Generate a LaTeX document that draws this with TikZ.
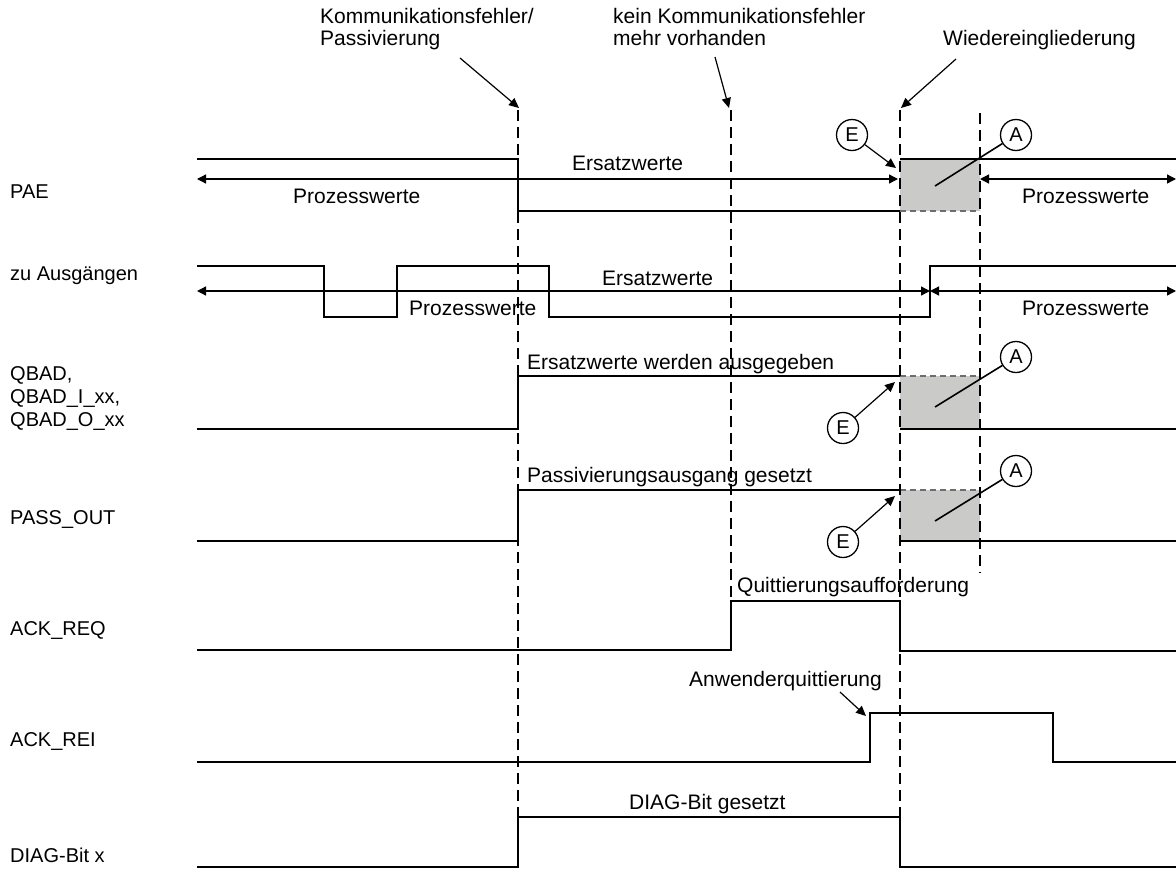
\documentclass[tikz,border=0pt]{standalone}
\usepackage{fontspec}
\setmainfont{Liberation Sans}
\usetikzlibrary{arrows.meta}
\definecolor{boxgray}{RGB}{202,202,200}
\definecolor{edgegray}{RGB}{110,110,110}
\begin{document}
\begin{tikzpicture}[x=1pt,y=-1pt,
  sig/.style={line width=1.8pt, line join=miter},
  guide/.style={line width=1.3pt, dash pattern=on 11pt off 6pt},
  boxedge/.style={line width=1.3pt, draw=edgegray, dash pattern=on 6pt off 4pt},
  dim/.style={line width=1.3pt, {Triangle[length=9pt,width=9pt]}-{Triangle[length=9pt,width=9pt]}},
  ptr/.style={line width=1.2pt, -{Triangle[length=10pt,width=9pt]}},
  leader/.style={line width=1.6pt},
  txt/.style={anchor=base west, inner sep=0pt, font=\fontsize{21}{24}\selectfont},
  rowtxt/.style={anchor=base west, inner sep=0pt, font=\fontsize{20}{23}\selectfont},
  callout/.style={circle, draw, line width=1.3pt, minimum size=31pt, inner sep=0pt, font=\fontsize{20}{24}\selectfont},
  shade/.style={fill=boxgray, draw=none}
]
\useasboundingbox (0,0) rectangle (1176,879);

% shaded transition windows
\fill[shade] (900,159) rectangle (980,211);
\fill[shade] (900,376) rectangle (980,429);
\fill[shade] (900,490) rectangle (980,541);
\draw[boxedge] (900,211) -- (980,211);
\draw[boxedge] (900,376) -- (980,376);
\draw[boxedge] (900,490) -- (980,490);

% event guide lines
\draw[guide] (518,110) -- (518,867);
\draw[guide] (731,110) -- (731,601);
\draw[guide] (900,110) -- (900,867);
\draw[guide] (980,113) -- (980,573);

% row labels
\node[rowtxt] (lPAE)  at (10,198) {PAE};
\node[rowtxt] (lOut)  at (10,280) {zu Ausgängen};
\node[rowtxt] (lQ1)   at (10,380) {QBAD,};
\node[rowtxt] (lQ2)   at (10,403) {QBAD\_I\_xx,};
\node[rowtxt] (lQ3)   at (10,426) {QBAD\_O\_xx};
\node[rowtxt] (lPass) at (10,524) {PASS\_OUT};
\node[rowtxt] (lReq)  at (10,635) {ACK\_REQ};
\node[rowtxt] (lRei)  at (10,746) {ACK\_REI};
\node[rowtxt] (lDiag) at (10,862) {DIAG-Bit x};

% event headings
\node[txt] (ev1a) at (320,23) {Kommunikationsfehler/};
\node[txt] (ev1b) at (320,45) {Passivierung};
\node[txt] (ev2a) at (613,23) {kein Kommunikationsfehler};
\node[txt] (ev2b) at (613,45) {mehr vorhanden};
\node[txt] (ev3)  at (943,45) {Wiedereingliederung};
\coordinate (ev1s) at (460,58);  \coordinate (ev1t) at (519,108);
\coordinate (ev2s) at (715,57);  \coordinate (ev2t) at (729,108);
\coordinate (ev3s) at (956,59);  \coordinate (ev3t) at (901,108);
\draw[ptr] (ev1s) -- (ev1t);
\draw[ptr] (ev2s) -- (ev2t);
\draw[ptr] (ev3s) -- (ev3t);

% PAE
\draw[sig] (197,159) -- (518,159) -- (518,211) -- (900,211);
\draw[sig] (900,159) -- (1176,159);
\coordinate (paeL) at (197,179); \coordinate (paeM) at (898,179);
\coordinate (paeR) at (980,179); \coordinate (paeE) at (1176,179);
\draw[dim] (paeL) -- (paeM);
\draw[dim] (paeR) -- (paeE);
\node[txt] (paeT1) at (293,203) {Prozesswerte};
\node[txt] (paeT2) at (572,170) {Ersatzwerte};
\node[txt] (paeT3) at (1022,203) {Prozesswerte};

% zu Ausgaengen
\draw[sig] (197,266) -- (324,266) -- (324,317) -- (397,317) -- (397,266)
  -- (549,266) -- (549,317) -- (930,317) -- (930,266) -- (1176,266);
\coordinate (outL) at (197,291); \coordinate (outM) at (930,291);
\coordinate (outE) at (1176,291);
\draw[dim] (outL) -- (outM);
\draw[dim] (outM) -- (outE);
\node[txt] (outT1) at (409,315) {Prozesswerte};
\node[txt] (outT2) at (602,285) {Ersatzwerte};
\node[txt] (outT3) at (1022,315) {Prozesswerte};

% QBAD
\draw[sig] (197,429) -- (518,429) -- (518,376) -- (900,376);
\draw[sig] (900,429) -- (1176,429);
\node[txt] (qT) at (527,369) {Ersatzwerte werden ausgegeben};

% PASS_OUT
\draw[sig] (197,541) -- (518,541) -- (518,490) -- (900,490);
\draw[sig] (900,541) -- (1176,541);
\node[txt] (pT) at (527,482) {Passivierungsausgang gesetzt};

% ACK_REQ
\draw[sig] (197,650) -- (731,650) -- (731,601) -- (900,601) -- (900,651) -- (1176,651);
\node[txt] (rqT) at (737,592) {Quittierungsaufforderung};

% ACK_REI
\draw[sig] (197,762) -- (870,762) -- (870,713) -- (1053,713) -- (1053,762) -- (1176,762);
\node[txt] (riT) at (689,686) {Anwenderquittierung};
\coordinate (riS) at (840,692); \coordinate (riE) at (866,716);
\draw[ptr] (riS) -- (riE);

% DIAG-Bit
\draw[sig] (197,867) -- (518,867) -- (518,817) -- (900,817) -- (900,867) -- (1176,867);
\node[txt] (dT) at (629,809) {DIAG-Bit gesetzt};

% callouts E (input) and A (output)
\node[callout] (E1) at (852,135) {E};
\node[callout] (A1) at (1016,135) {A};
\node[callout] (E2) at (843,428) {E};
\node[callout] (A2) at (1016,357) {A};
\node[callout] (E3) at (843,542) {E};
\node[callout] (A3) at (1016,471) {A};
\coordinate (e1t) at (896,168); \coordinate (a1t) at (935,186);
\coordinate (e2t) at (895,382); \coordinate (a2t) at (935,407);
\coordinate (e3t) at (895,496); \coordinate (a3t) at (935,521);
\draw[ptr] (E1) -- (e1t);
\draw[ptr] (E2) -- (e2t);
\draw[ptr] (E3) -- (e3t);
\draw[leader] (A1) -- (a1t);
\draw[leader] (A2) -- (a2t);
\draw[leader] (A3) -- (a3t);
\end{tikzpicture}
\end{document}
